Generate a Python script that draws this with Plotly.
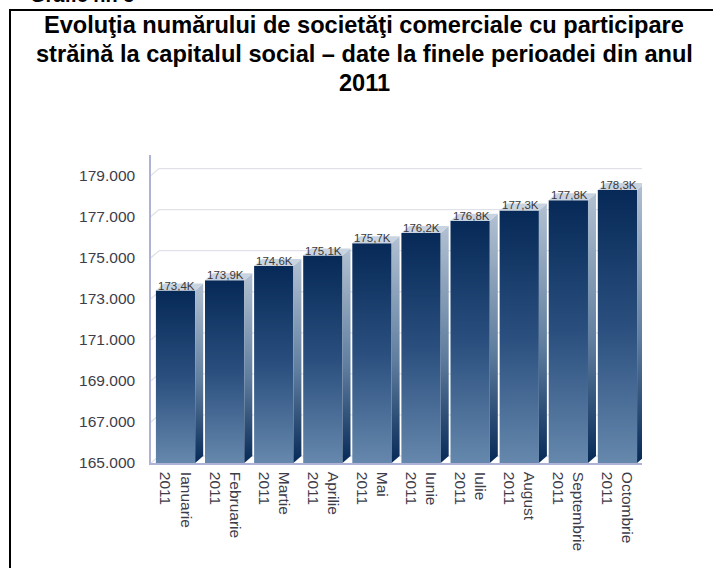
import plotly.graph_objects as go

# ---- data ----
months = ["Ianuarie", "Februarie", "Martie", "Aprilie", "Mai", "Iunie",
          "Iulie", "August", "Septembrie", "Octombrie"]
year = "2011"
values = [173400, 173900, 174600, 175100, 175700, 176200, 176800, 177300, 177800, 178300]
y_ticks = [165000, 167000, 169000, 171000, 173000, 175000, 177000, 179000]
title_lines = ["Evoluţia numărului de societăţi comerciale cu participare",
               "străină la capitalul social – date la finele perioadei din anul",
               "2011"]
caption = "Grafic nr. 5"

# ---- geometry / style ----
W, H = 713, 568
L, R, T, B = 151, 71, 155, 105
PW, PH = W - L - R, H - T - B
Y0, Y1 = 165000, 180000
X0, X1 = -0.5, len(months) - 0.5
bw = 0.8
dx = 8 / (PW / (X1 - X0))          # depth offset in x units (8 px)
dy = 7 * (Y1 - Y0) / PH            # depth offset in y units (7 px)

def px_to_paper_x(p):
    return (p - L) / PW

def px_to_paper_y(p):
    return (H - B - p) / PH

FONT = "Liberation Sans, Arial, sans-serif"
grid_c = "#e1e1ea"
axis_c = "#aeb2d6"
txt_c = "#3d3d4a"

fig = go.Figure()

xs = list(range(len(months)))
for i, v in zip(xs, values):
    xl, xr = i - bw / 2, i + bw / 2
    # front face
    fig.add_trace(go.Scatter(
        x=[xl, xr, xr, xl, xl], y=[Y0, Y0, v, v, Y0],
        mode="lines", line=dict(width=0), fill="toself",
        fillgradient=dict(type="vertical",
                          colorscale=[[0, "#6688ad"], [0.5, "#2a4f7e"], [1, "#062957"]]),
        hoverinfo="skip", showlegend=False))
    # side face
    fig.add_trace(go.Scatter(
        x=[xr, xr + dx, xr + dx, xr, xr], y=[Y0, Y0 + dy, v + dy, v, Y0],
        mode="lines", line=dict(width=0), fill="toself",
        fillgradient=dict(type="vertical",
                          colorscale=[[0, "#062957"], [0.45, "#5f7d9e"], [1, "#b2c1d2"]]),
        hoverinfo="skip", showlegend=False))
    # top face
    fig.add_trace(go.Scatter(
        x=[xl, xr, xr + dx, xl + dx, xl], y=[v, v, v + dy, v + dy, v],
        mode="lines", line=dict(width=0), fill="toself", fillcolor="#c9d4e0",
        hoverinfo="skip", showlegend=False))

annotations = []
for i, v in zip(xs, values):
    annotations.append(dict(
        x=i - bw / 2, y=v, xref="x", yref="y", xanchor="left", yanchor="bottom",
        yshift=-3, showarrow=False,
        text=f"{v/1000:.1f}K".replace(".", ","),
        font=dict(family=FONT, size=11.5, color="#3a3a3a")))

title_y_px = [25, 54, 83]
for t, yp in zip(title_lines, title_y_px):
    annotations.append(dict(
        x=px_to_paper_x(364), y=px_to_paper_y(yp), xref="paper", yref="paper",
        xanchor="center", yanchor="middle", showarrow=False,
        text=f"<b>{t}</b>",
        font=dict(family=FONT, size=23.6, color="#000000")))

annotations.append(dict(
    x=px_to_paper_x(28), y=px_to_paper_y(8), xref="paper", yref="paper",
    xanchor="left", yanchor="bottom", showarrow=False,
    text=f"<b>{caption}</b>",
    font=dict(family=FONT, size=20, color="#000000")))

shapes = []
for t in y_ticks:
    shapes.append(dict(type="line", xref="x", yref="y", layer="below",
                       x0=X0 + dx, x1=X1 + dx, y0=t + dy, y1=t + dy,
                       line=dict(color=grid_c, width=1.3)))
    shapes.append(dict(type="line", xref="x", yref="y", layer="below",
                       x0=X0, x1=X0 + dx, y0=t, y1=t + dy,
                       line=dict(color=grid_c, width=1.3)))
# outer frame
shapes.append(dict(type="rect", xref="paper", yref="paper",
                   x0=px_to_paper_x(10), x1=px_to_paper_x(730),
                   y0=px_to_paper_y(620), y1=px_to_paper_y(10),
                   line=dict(color="#000000", width=2), fillcolor="rgba(0,0,0,0)"))

fig.update_layout(
    width=W, height=H,
    margin=dict(l=L, r=R, t=T, b=B, pad=0),
    paper_bgcolor="white", plot_bgcolor="white",
    separators=",.",
    showlegend=False,
    annotations=annotations,
    shapes=shapes,
    font=dict(family=FONT, color=txt_c),
    xaxis=dict(range=[X0, X1], tickmode="array", tickvals=xs,
               ticktext=[f"{m}<br>{year}" for m in months],
               tickangle=90, showgrid=False, zeroline=False,
               showline=True, linecolor=axis_c, linewidth=1.5,
               ticks="outside", ticklen=4, tickcolor="rgba(0,0,0,0)",
               tickfont=dict(family=FONT, size=15.5, color=txt_c),
               fixedrange=True),
    yaxis=dict(range=[Y0, Y1], tickmode="array", tickvals=y_ticks,
               tickformat=",d", showgrid=False, zeroline=False,
               showline=True, linecolor=axis_c, linewidth=1.5,
               ticks="outside", ticklen=11, tickcolor="rgba(0,0,0,0)",
               tickfont=dict(family=FONT, size=15.5, color=txt_c),
               fixedrange=True),
)

fig.write_html("out.html", config={"displayModeBar": False},
               post_script="document.body.style.margin='0';document.body.style.overflow='hidden';")
